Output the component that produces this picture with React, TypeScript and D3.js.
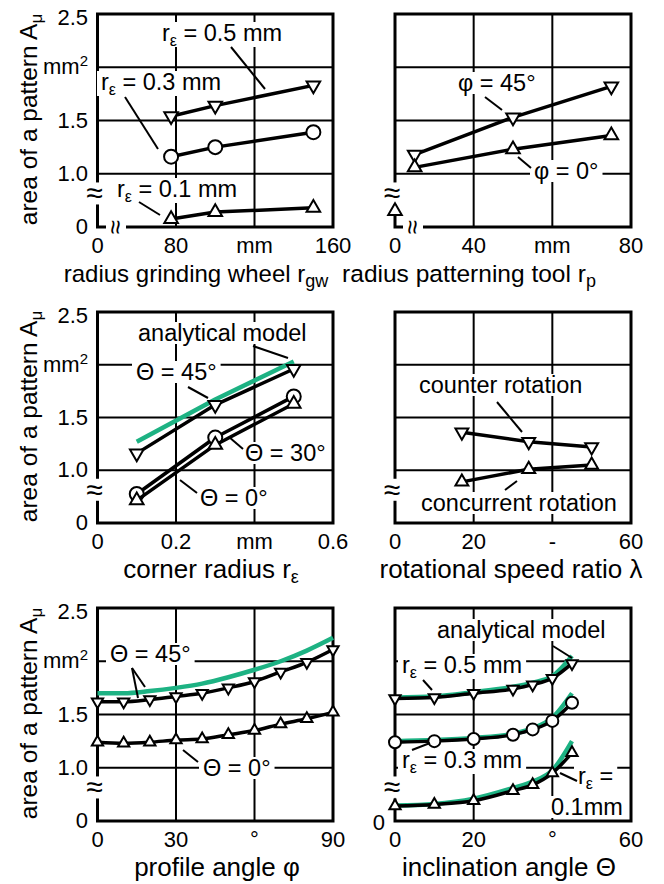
import React, { useEffect, useRef } from "react";
import * as d3 from "d3";

const W = 664;
const H = 884;
const FONT = "'Liberation Sans', Arial, Helvetica, sans-serif";
const GREEN = "#1db283";

// radius grinding wheel (top left)
const gwRadius = [75, 100, 150];
const gwR05 = [1.54, 1.64, 1.83];
const gwR03 = [1.16, 1.25, 1.39];
const gwR01 = [0.15, 0.28, 0.36];

// radius patterning tool (top right)
const ptRadius = [10, 50, 75];
const ptPhi45 = [1.18, 1.53, 1.82];
const ptPhi0 = [1.06, 1.23, 1.36];
const ptStrayX = [0];
const ptStrayY = [0.3];

// corner radius (middle left)
const crRadius = [0.1, 0.3, 0.5];
const crTheta45 = [1.16, 1.62, 1.96];
const crTheta30 = [0.55, 1.31, 1.7];
const crTheta0 = [0.43, 1.24, 1.63];
const crModel = [1.27, 1.67, 2.03];

// rotational speed ratio (middle right)
const speedRatio = [17, 34, 50];
const counterRot = [1.36, 1.27, 1.22];
const concurrentRot = [0.78, 1.01, 1.05];

// profile angle (bottom left)
const profileAngle = [0, 10, 20, 30, 40, 50, 60, 70, 80, 90];
const paTheta45 = [1.62, 1.62, 1.64, 1.67, 1.7, 1.75, 1.81, 1.9, 1.99, 2.11];
const paTheta0 = [1.24, 1.23, 1.24, 1.26, 1.27, 1.31, 1.35, 1.41, 1.46, 1.52];
const paModel = [1.7, 1.7, 1.72, 1.75, 1.79, 1.85, 1.92, 2.0, 2.1, 2.22];

// inclination angle (bottom right)
const inclination = [0, 10, 20, 30, 35, 40, 45];
const inR05 = [1.65, 1.66, 1.7, 1.74, 1.78, 1.84, 1.98];
const inR03 = [1.24, 1.25, 1.27, 1.31, 1.36, 1.44, 1.61];
const inR01 = [0.28, 0.31, 0.38, 0.57, 0.68, 0.9, 1.14];
const inModel05 = [1.66, 1.67, 1.71, 1.76, 1.8, 1.86, 2.05];
const inModel03 = [1.25, 1.26, 1.28, 1.32, 1.37, 1.47, 1.7];
const inModel01 = [0.29, 0.32, 0.42, 0.62, 0.74, 0.95, 1.25];

// y axis (broken between 0 and 1.0)
const yBreaks = [0, 1, 2.5];
const yGrid = [1, 1.5, 2];
const yTickLabels = ["0", "1.0", "1.5", "mm2", "2.5"];
const yTickValues = [0, 1, 1.5, 2, 2.5];

const COLS = [
  [97.5, 333],
  [395, 631],
];
const ROWS = [
  [14, 227],
  [312, 523],
  [608, 821],
];

type Part = { t: string; sub?: boolean };
type Label = { x: number; y: number; parts: Part[]; leaders: number[][] };
type Series = { x: number[]; y: number[]; marker: "up" | "down" | "circle" | "none"; green?: boolean; line?: boolean };

const rEps = (rest: string): Part[] => [{ t: "r" }, { t: "ε", sub: true }, { t: rest }];

const panels = [
  {
    col: 0, row: 0,
    xDomain: [0, 80, 160],
    xTicks: [0, 80, 120, 160], xTickText: ["0", "80", "mm", "160"],
    title: [{ t: "radius grinding wheel r" }, { t: "gw", sub: true }], titleX: 196, titleSize: 24,
    xBreak: 116,
    curve: false, size: 80, r: 7,
    series: [
      { x: gwRadius, y: gwR05, marker: "down" },
      { x: gwRadius, y: gwR03, marker: "circle" },
      { x: gwRadius, y: gwR01, marker: "up" },
    ] as Series[],
    labels: [
      { x: 162, y: 41, parts: rEps(" = 0.5 mm"), leaders: [[231, 47, 265, 89]] },
      { x: 101, y: 90, parts: rEps(" = 0.3 mm"), leaders: [[125, 97, 158, 149]] },
      { x: 117, y: 197, parts: rEps(" = 0.1 mm"), leaders: [[139, 202, 160, 215]] },
    ] as Label[],
  },
  {
    col: 1, row: 0,
    xDomain: [0, 40, 80],
    xTicks: [0, 40, 60, 80], xTickText: ["0", "40", "mm", "80"],
    title: [{ t: "radius patterning tool r" }, { t: "p", sub: true }], titleX: 469, titleSize: 24.5,
    xBreak: 413,
    curve: false, size: 80, r: 7,
    series: [
      { x: ptRadius, y: ptPhi45, marker: "down" },
      { x: ptRadius, y: ptPhi0, marker: "up" },
      { x: ptStrayX, y: ptStrayY, marker: "up", line: false },
    ] as Series[],
    labels: [
      { x: 458, y: 91, parts: [{ t: "φ = 45°" }], leaders: [[485, 97, 502, 110]] },
      { x: 534, y: 179, parts: [{ t: "φ = 0°" }], leaders: [[518, 157, 531, 168]] },
    ] as Label[],
  },
  {
    col: 0, row: 1,
    xDomain: [0, 0.6],
    xTicks: [0, 0.2, 0.4, 0.6], xTickText: ["0", "0.2", "mm", "0.6"],
    title: [{ t: "corner radius r" }, { t: "ε", sub: true }], titleX: 211, titleSize: 26,
    curve: false, size: 80, r: 7,
    series: [
      { x: crRadius, y: crModel, marker: "none", green: true },
      { x: crRadius, y: crTheta45, marker: "down" },
      { x: crRadius, y: crTheta30, marker: "circle" },
      { x: crRadius, y: crTheta0, marker: "up" },
    ] as Series[],
    labels: [
      { x: 138, y: 341, parts: [{ t: "analytical model" }], leaders: [[253, 346, 288, 358]] },
      { x: 136, y: 380, parts: [{ t: "Θ = 45°" }], leaders: [[188, 387, 208, 398]] },
      { x: 245, y: 461, parts: [{ t: "Θ = 30°" }], leaders: [[229, 437, 243, 449]] },
      { x: 200, y: 506, parts: [{ t: "Θ = 0°" }], leaders: [[180, 480, 197, 493]] },
    ] as Label[],
  },
  {
    col: 1, row: 1,
    xDomain: [0, 60],
    xTicks: [0, 20, 40, 60], xTickText: ["0", "20", "-", "60"],
    title: [{ t: "rotational speed ratio λ" }], titleX: 511, titleSize: 26,
    curve: false, size: 72, r: 7,
    series: [
      { x: speedRatio, y: counterRot, marker: "down" },
      { x: speedRatio, y: concurrentRot, marker: "up" },
    ] as Series[],
    labels: [
      { x: 419, y: 393, parts: [{ t: "counter rotation" }], leaders: [[497, 402, 522, 432]] },
      { x: 421, y: 511, parts: [{ t: "concurrent rotation" }], leaders: [[505, 490, 517, 481]] },
    ] as Label[],
  },
  {
    col: 0, row: 2,
    xDomain: [0, 90],
    xTicks: [0, 30, 60, 90], xTickText: ["0", "30", "°", "90"],
    title: [{ t: "profile angle φ" }], titleX: 217, titleSize: 26,
    curve: true, size: 55, r: 6,
    series: [
      { x: profileAngle, y: paModel, marker: "none", green: true },
      { x: profileAngle, y: paTheta45, marker: "down" },
      { x: profileAngle, y: paTheta0, marker: "up" },
    ] as Series[],
    labels: [
      { x: 110, y: 662, parts: [{ t: "Θ = 45°" }], leaders: [[132, 668, 145, 687], [132, 668, 138, 698]] },
      { x: 203, y: 776, parts: [{ t: "Θ = 0°" }], leaders: [[183, 750, 198, 762]] },
    ] as Label[],
  },
  {
    col: 1, row: 2,
    xDomain: [0, 60],
    xTicks: [0, 20, 40, 60], xTickText: ["0", "20", "°", "60"],
    title: [{ t: "inclination angle Θ" }], titleX: 509, titleSize: 26,
    curve: true, size: 55, r: 6, zeroLabel: true,
    series: [
      { x: inclination, y: inModel05, marker: "none", green: true },
      { x: inclination, y: inModel03, marker: "none", green: true },
      { x: inclination, y: inModel01, marker: "none", green: true },
      { x: inclination, y: inR05, marker: "down" },
      { x: inclination, y: inR03, marker: "circle" },
      { x: inclination, y: inR01, marker: "up" },
    ] as Series[],
    labels: [
      { x: 437, y: 638, parts: [{ t: "analytical model" }], leaders: [[553, 646, 572, 658]] },
      { x: 402, y: 673, parts: rEps(" = 0.5 mm"), leaders: [[423, 680, 432, 690]] },
      { x: 402, y: 768, parts: rEps(" = 0.3 mm"), leaders: [[412, 750, 430, 743]] },
      { x: 578, y: 784, parts: rEps(" ="), leaders: [[560, 773, 577, 781]] },
      { x: 551, y: 815, parts: [{ t: "0.1mm" }], leaders: [] },
    ] as Label[],
  },
];

function addParts(text: any, parts: Part[], subSize: number) {
  parts.forEach((p, i) => {
    const prevSub = i > 0 && parts[i - 1].sub;
    const ts = text.append("tspan").text(p.t);
    if (p.sub) ts.attr("dy", 5).attr("font-size", subSize);
    else if (prevSub) ts.attr("dy", -5);
  });
}

export default function App() {
  const ref = useRef<SVGSVGElement>(null);

  useEffect(() => {
    const svg = d3.select(ref.current);
    svg.selectAll("*").remove();
    svg.append("rect").attr("width", W).attr("height", H).attr("fill", "#fff");

    panels.forEach((p: any) => {
      const [x0, x1] = COLS[p.col];
      const [top, bottom] = ROWS[p.row];
      const band = (bottom - top) / 4;

      const xRange = p.xDomain.length === 3 ? [x0, x0 + (x1 - x0) / 3, x1] : [x0, x1];
      const x = d3.scaleLinear().domain(p.xDomain).range(xRange);
      const y = d3.scaleLinear().domain(yBreaks).range([bottom, bottom - band, top]);

      const gGrid = svg.append("g");
      const gBg = svg.append("g");
      const gData = svg.append("g");
      const gText = svg.append("g").attr("font-family", FONT);

      // grid
      gGrid.selectAll(".hg").data(yGrid).enter().append("line")
        .attr("x1", x0).attr("x2", x1)
        .attr("y1", (d) => y(d)).attr("y2", (d) => y(d))
        .attr("stroke", "#000").attr("stroke-width", 2);
      gGrid.selectAll(".vg").data(p.xTicks.slice(1, -1)).enter().append("line")
        .attr("x1", (d: number) => x(d)).attr("x2", (d: number) => x(d))
        .attr("y1", top).attr("y2", bottom)
        .attr("stroke", "#000").attr("stroke-width", 2);
      gGrid.append("rect")
        .attr("x", x0).attr("y", top).attr("width", x1 - x0).attr("height", bottom - top)
        .attr("fill", "none").attr("stroke", "#000").attr("stroke-width", 3);

      // axis breaks
      const yb = bottom - band * 0.63;
      gGrid.append("rect").attr("x", x0 - 4).attr("y", yb - 11).attr("width", 8).attr("height", 22).attr("fill", "#fff");
      gText.append("text").attr("x", x0 - 3).attr("y", yb + 10).attr("text-anchor", "middle")
        .attr("font-size", 30).text("≈");
      if (p.xBreak) {
        gGrid.append("rect").attr("x", p.xBreak - 10).attr("y", bottom - 4).attr("width", 20).attr("height", 8).attr("fill", "#fff");
        gText.append("text").attr("transform", `translate(${p.xBreak - 9},${bottom}) rotate(90)`)
          .attr("text-anchor", "middle").attr("font-size", 26).text("≈");
      }

      // y ticks
      if (p.col === 0) {
        yTickValues.forEach((v, i) => {
          const t = gText.append("text")
            .attr("x", 88).attr("y", y(v) + (v === 2.5 ? 11 : 7))
            .attr("text-anchor", "end").attr("font-size", 22);
          if (yTickLabels[i] === "mm2") {
            t.append("tspan").text("mm");
            t.append("tspan").attr("dy", -8).attr("font-size", 15).text("2");
          } else t.text(yTickLabels[i]);
        });
        const t = gText.append("text")
          .attr("transform", `translate(37,${(top + bottom) / 2 - 1}) rotate(-90)`)
          .attr("text-anchor", "middle").attr("font-size", 24.5);
        addParts(t, [{ t: "area of a pattern A" }, { t: "μ", sub: true }], 17);
      }
      if (p.zeroLabel) {
        gText.append("text").attr("x", x0 - 10).attr("y", bottom + 9)
          .attr("text-anchor", "end").attr("font-size", 22).text("0");
      }

      // x ticks
      p.xTicks.forEach((v: number, i: number) => {
        gText.append("text").attr("x", x(v)).attr("y", bottom + 26)
          .attr("text-anchor", "middle").attr("font-size", 22).text(p.xTickText[i]);
      });
      const tt = gText.append("text").attr("x", p.titleX).attr("y", bottom + 55)
        .attr("text-anchor", "middle").attr("font-size", p.titleSize);
      addParts(tt, p.title, 18);

      // data
      p.series.forEach((s: Series) => {
        const pts = s.x.map((v, i) => [x(v), y(s.y[i])] as [number, number]);
        if (s.line !== false) {
          const line = d3.line().curve(p.curve ? d3.curveMonotoneX : d3.curveLinear);
          gData.append("path").attr("d", line(pts))
            .attr("fill", "none")
            .attr("stroke", s.green ? GREEN : "#000")
            .attr("stroke-width", s.green ? 4.5 : 3.5)
            .attr("stroke-linejoin", "round");
        }
        if (s.marker === "none") return;
        const g = gData.append("g");
        pts.forEach(([px, py]) => {
          if (s.marker === "circle") {
            g.append("circle").attr("cx", px).attr("cy", py).attr("r", p.r)
              .attr("fill", "#fff").attr("stroke", "#000").attr("stroke-width", 2);
          } else {
            g.append("path")
              .attr("d", d3.symbol(d3.symbolTriangle, p.size)())
              .attr("transform", `translate(${px},${py})${s.marker === "down" ? " rotate(180)" : ""}`)
              .attr("fill", "#fff").attr("stroke", "#000").attr("stroke-width", 2);
          }
        });
      });

      // labels with white background and leader lines
      p.labels.forEach((l: Label) => {
        const t = gText.append("text").attr("x", l.x).attr("y", l.y).attr("font-size", 23.5);
        addParts(t, l.parts, 16);
        const bb = (t.node() as SVGTextElement).getBBox();
        gBg.append("rect").attr("x", bb.x - 4).attr("y", bb.y + 2)
          .attr("width", bb.width + 8).attr("height", bb.height - 4).attr("fill", "#fff");
        l.leaders.forEach(([a, b, c, d]) => {
          gText.append("line").attr("x1", a).attr("y1", b).attr("x2", c).attr("y2", d)
            .attr("stroke", "#000").attr("stroke-width", 2);
        });
      });
    });
  }, []);

  return (
    <svg
      ref={ref}
      width={W}
      height={H}
      style={{ position: "absolute", left: 0, top: 0, display: "block" }}
    />
  );
}
